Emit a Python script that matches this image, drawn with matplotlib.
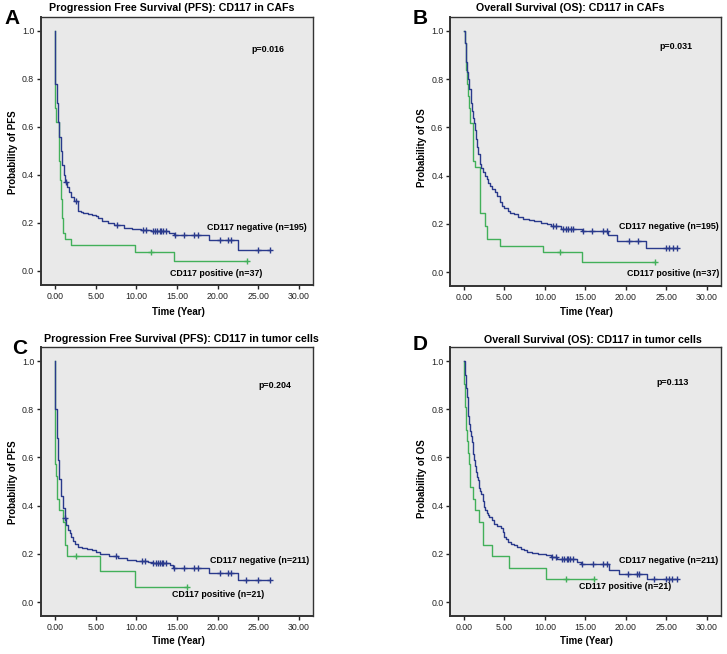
#!/usr/bin/env python3
"""Kaplan-Meier curves for CD117 in CAFs / tumor cells (PFS and OS)."""
import matplotlib
matplotlib.use('Agg')
import matplotlib.pyplot as plt
import numpy as np

plt.rcParams['font.family'] = ['Liberation Sans', 'DejaVu Sans']

W, H = 727, 654

# ---- Panel A: PFS, CD117 in CAFs ----
a_neg_t = [0, 0.05, 0.2, 0.4, 0.55, 0.7, 0.9, 1.1, 1.2, 1.5, 1.7, 2.0, 2.3, 2.8, 3.2, 3.5, 4.0, 4.5,
           5.0, 5.3, 5.8, 6.5, 7.2, 8.5, 9.5, 10.6, 11.8, 14.0, 14.6, 19.0, 22.5]
a_neg_s = [1.0, 0.78, 0.70, 0.62, 0.56, 0.50, 0.44, 0.40, 0.37, 0.35, 0.33, 0.31, 0.29, 0.25, 0.245, 0.24,
           0.237, 0.235, 0.228, 0.22, 0.21, 0.20, 0.19, 0.18, 0.175, 0.17, 0.165, 0.16, 0.15, 0.13, 0.087]
a_neg_c = [1.3, 2.6, 7.6, 10.8, 11.2, 12.0, 12.3, 12.6, 12.9, 13.0, 13.3, 13.6, 14.7, 15.9,
           17.1, 17.6, 20.3, 21.3, 21.6, 25.0, 26.4]
a_pos_t = [0, 0.05, 0.15, 0.45, 0.55, 0.65, 0.75, 0.85, 0.95, 1.2, 1.95, 9.9, 14.6]
a_pos_s = [1.0, 0.68, 0.62, 0.54, 0.46, 0.38, 0.30, 0.22, 0.16, 0.135, 0.108, 0.081, 0.04]
a_pos_c = [11.8, 23.6]

# ---- Panel B: OS, CD117 in CAFs ----
b_neg_t = [0, 0.1, 0.2, 0.3, 0.4, 0.53, 0.65, 0.82, 0.95, 1.1, 1.23, 1.35, 1.48, 1.6, 1.75,
           1.97, 2.15, 2.35, 2.6, 2.8, 3.0, 3.2, 3.5, 3.8, 4.1, 4.4, 4.7, 5.0, 5.4, 5.7,
           6.2, 6.7, 7.3, 8.0, 8.7, 9.5, 10.2, 10.7, 12.0, 14.6, 17.8, 18.9, 22.5]
b_neg_s = [1.0, 0.95, 0.91, 0.87, 0.83, 0.80, 0.76, 0.70, 0.67, 0.64, 0.62, 0.59, 0.55, 0.52, 0.49,
           0.45, 0.43, 0.415, 0.40, 0.385, 0.37, 0.355, 0.345, 0.33, 0.315, 0.29, 0.275, 0.265, 0.255, 0.245,
           0.24, 0.23, 0.22, 0.215, 0.21, 0.205, 0.20, 0.19, 0.18, 0.17, 0.152, 0.127, 0.10]
b_neg_c = [11.0, 11.4, 12.2, 12.6, 12.9, 13.2, 13.4, 14.7, 15.8, 17.2, 17.6, 20.4, 21.5,
           25.0, 25.3, 25.8, 26.3]
b_pos_t = [0, 0.1, 0.2, 0.3, 0.4, 0.5, 0.6, 0.74, 1.07, 1.35, 1.97, 2.6, 2.87, 4.4, 9.75, 14.6]
b_pos_s = [1.0, 0.95, 0.89, 0.84, 0.78, 0.73, 0.68, 0.62, 0.46, 0.435, 0.243, 0.19, 0.135, 0.108, 0.081, 0.04]
b_pos_c = [11.8, 23.6]

# ---- Panel C: PFS, CD117 in tumor cells ----
c_neg_t = [0, 0.05, 0.2, 0.37, 0.55, 0.78, 1.0, 1.19, 1.4, 1.6, 1.8, 2.0, 2.2, 2.4, 2.8, 3.3, 3.9,
           4.5, 5.1, 5.5, 6.7, 7.8, 8.8, 10.0, 11.5, 12.0, 14.1, 14.5, 19.0, 22.5]
c_neg_s = [1.0, 0.80, 0.68, 0.59, 0.51, 0.44, 0.39, 0.35, 0.32, 0.30, 0.285, 0.27, 0.255, 0.24, 0.23,
           0.225, 0.22, 0.214, 0.208, 0.198, 0.19, 0.184, 0.176, 0.169, 0.165, 0.16, 0.152, 0.14, 0.122, 0.09]
c_neg_c = [1.25, 7.5, 10.7, 11.1, 12.1, 12.4, 12.7, 12.9, 13.1, 13.3, 13.6, 14.6, 15.9, 17.1,
           17.6, 20.3, 21.3, 21.6, 23.5, 25.0, 26.4]
c_pos_t = [0, 0.03, 0.1, 0.2, 0.5, 1.0, 1.23, 1.44, 5.5, 9.9]
c_pos_s = [1.0, 0.571, 0.524, 0.429, 0.381, 0.333, 0.238, 0.19, 0.127, 0.063]
c_pos_c = [2.55, 16.2]

# ---- Panel D: OS, CD117 in tumor cells ----
d_neg_t = [0, 0.1, 0.25, 0.35, 0.45, 0.55, 0.65, 0.75, 0.86, 0.95, 1.05, 1.15, 1.27, 1.4, 1.5,
           1.6, 1.68, 1.8, 1.9, 2.0, 2.1, 2.3, 2.5, 2.65, 2.8, 2.95, 3.1, 3.4, 3.7, 4.1,
           4.55, 4.8, 5.0, 5.2, 5.4, 5.8, 6.2, 6.6, 7.0, 7.4, 7.8, 8.4, 9.1, 10.1, 10.7,
           11.5, 14.0, 14.4, 17.9, 19.1, 22.6]
d_neg_s = [1.0, 0.94, 0.89, 0.85, 0.80, 0.77, 0.74, 0.71, 0.69, 0.665, 0.64, 0.615, 0.59, 0.565, 0.54,
           0.52, 0.505, 0.49, 0.475, 0.46, 0.45, 0.42, 0.395, 0.38, 0.37, 0.36, 0.353, 0.34, 0.325, 0.315,
           0.305, 0.29, 0.27, 0.26, 0.25, 0.24, 0.235, 0.228, 0.22, 0.214, 0.208, 0.203, 0.198, 0.193, 0.187,
           0.177, 0.166, 0.157, 0.132, 0.118, 0.094]
d_neg_c = [10.9, 11.3, 12.1, 12.4, 12.7, 12.9, 13.1, 13.4, 14.6, 15.9, 17.2, 17.6, 20.3, 21.4,
           21.6, 23.5, 25.0, 25.3, 25.7, 26.3]
d_pos_t = [0, 0.05, 0.1, 0.15, 0.2, 0.25, 0.4, 0.53, 0.65, 0.78, 1.07, 1.4, 1.9, 2.3, 2.4, 3.45, 5.5, 10.1]
d_pos_s = [1.0, 0.905, 0.857, 0.81, 0.762, 0.714, 0.667, 0.619, 0.571, 0.476, 0.429, 0.381, 0.333,
           0.286, 0.238, 0.19, 0.143, 0.095]
d_pos_c = [12.6, 16.0]

titles = ['Progression Free Survival (PFS): CD117 in CAFs',
          'Overall Survival (OS): CD117 in CAFs',
          'Progression Free Survival (PFS): CD117 in tumor cells',
          'Overall Survival (OS): CD117 in tumor cells']
letters = ['A', 'B', 'C', 'D']
ylabels = ['Probability of PFS', 'Probability of OS', 'Probability of PFS', 'Probability of OS']
pvals = ['p=0.016', 'p=0.031', 'p=0.204', 'p=0.113']
neg_labels = ['CD117 negative (n=195)', 'CD117 negative (n=195)',
              'CD117 negative (n=211)', 'CD117 negative (n=211)']
pos_labels = ['CD117 positive (n=37)', 'CD117 positive (n=37)',
              'CD117 positive (n=21)', 'CD117 positive (n=21)']

curves = [
    (a_neg_t, a_neg_s, a_neg_c, a_pos_t, a_pos_s, a_pos_c),
    (b_neg_t, b_neg_s, b_neg_c, b_pos_t, b_pos_s, b_pos_c),
    (c_neg_t, c_neg_s, c_neg_c, c_pos_t, c_pos_s, c_pos_c),
    (d_neg_t, d_neg_s, d_neg_c, d_pos_t, d_pos_s, d_pos_c),
]

# layout in pixels: (x of t=0, px per year, y of s=0, px per unit)
frames = [(55, 8.13, 271, 240), (464, 8.1, 272, 241), (55, 8.13, 602, 241), (464, 8.1, 602, 241)]
XLIM = (-1.7, 31.7)
YLIM = (-0.06, 1.06)
# text anchors in data coords: p value, negative label, positive label
p_pos = [(24.2, 0.925), (24.1, 0.935), (25.0, 0.90), (23.7, 0.91)]
neg_pos = [(18.7, 0.18), (19.1, 0.187), (19.1, 0.174), (19.1, 0.174)]
pos_pos = [(14.1, -0.01), (20.1, -0.005), (14.4, 0.03), (14.2, 0.066)]
letter_px = [(12, 19), (420, 18), (20, 349), (420, 345)]
title_px = [(172, 8), (570, 8), (181, 339), (593, 340)]
ylab_px = [(13, 152), (422, 148), (13, 482), (422, 479)]
xlab_px = [(178, 312), (586, 312), (178, 641), (586, 641)]

BLUE = '#2a3a8c'
GREEN = '#42b05a'
BG = '#e9e9e9'


def fx(x):
    return x / W


def fy(y):
    return 1 - y / H


def km(ax, t, s, cens, color):
    t = np.asarray(t, float)
    s = np.asarray(s, float)
    cens = np.asarray(cens, float)
    tt = np.append(t, cens.max())
    ss = np.append(s, s[-1])
    ax.step(tt, ss, where='post', color=color, lw=1.0, zorder=3)
    idx = np.searchsorted(t, cens, side='right') - 1
    ax.plot(cens, s[idx], '+', color=color, ms=4.5, mew=1.0, zorder=4)


fig = plt.figure(figsize=(W / 100, H / 100), dpi=100)
fig.patch.set_facecolor('white')

for i in range(4):
    x0, sx, y0, sy = frames[i]
    left = x0 + XLIM[0] * sx
    width = (XLIM[1] - XLIM[0]) * sx
    bottom = y0 - YLIM[0] * sy
    height = (YLIM[1] - YLIM[0]) * sy
    ax = fig.add_axes([fx(left), fy(bottom), width / W, height / H])
    ax.set_facecolor(BG)
    ax.set_xlim(*XLIM)
    ax.set_ylim(*YLIM)

    nt, ns, nc, pt, ps, pc = curves[i]
    km(ax, pt, ps, pc, GREEN)
    km(ax, nt, ns, nc, BLUE)

    ax.set_xticks([0, 5, 10, 15, 20, 25, 30])
    ax.set_xticklabels(['0.00', '5.00', '10.00', '15.00', '20.00', '25.00', '30.00'])
    ax.set_yticks([0, 0.2, 0.4, 0.6, 0.8, 1.0])
    ax.set_yticklabels(['0.0', '0.2', '0.4', '0.6', '0.8', '1.0'])
    ax.tick_params(direction='out', length=3, width=1.0, labelsize=6.3,
                   colors='#222222', pad=2)
    for sp in ax.spines.values():
        sp.set_color('#333333')
        sp.set_linewidth(1.0)
    ax.spines['left'].set_linewidth(1.4)
    ax.spines['bottom'].set_linewidth(1.4)

    ax.text(*p_pos[i], pvals[i], fontsize=6.4, fontweight='bold', va='center', ha='left')
    ax.text(*neg_pos[i], neg_labels[i], fontsize=6.4, fontweight='bold', va='center', ha='left')
    ax.text(*pos_pos[i], pos_labels[i], fontsize=6.4, fontweight='bold', va='center', ha='left')

    fig.text(fx(letter_px[i][0]), fy(letter_px[i][1]), letters[i], fontsize=15,
             fontweight='bold', ha='center', va='center')
    fig.text(fx(title_px[i][0]), fy(title_px[i][1]), titles[i], fontsize=7.7,
             fontweight='bold', ha='center', va='center')
    fig.text(fx(ylab_px[i][0]), fy(ylab_px[i][1]), ylabels[i], fontsize=7.0,
             fontweight='bold', ha='center', va='center', rotation=90)
    fig.text(fx(xlab_px[i][0]), fy(xlab_px[i][1]), 'Time (Year)', fontsize=7.0,
             fontweight='bold', ha='center', va='center')

fig.savefig('out.png', dpi=100)
plt.close(fig)
